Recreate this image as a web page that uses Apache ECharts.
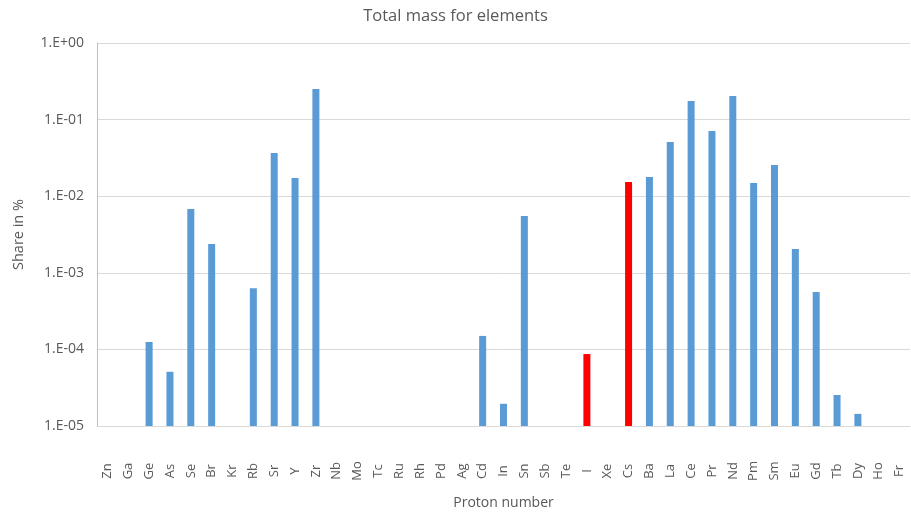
<!DOCTYPE html>
<html><head><meta charset="utf-8">
<script src="https://cdn.jsdelivr.net/npm/echarts@6/dist/echarts.min.js"></script>
<style>html,body{margin:0;padding:0;background:#fff}#c{width:911px;height:513px}</style>
</head><body><div id="c"></div>
<script>
var categories = ['Zn','Ga','Ge','As','Se','Br','Kr','Rb','Sr','Y','Zr','Nb','Mo','Tc','Ru','Rh','Pd','Ag','Cd','In','Sn','Sb','Te','I','Xe','Cs','Ba','La','Ce','Pr','Nd','Pm','Sm','Eu','Gd','Tb','Dy','Ho','Fr'];
var shares = [null,null,1.25e-4,5.1e-5,6.8e-3,2.38e-3,null,6.3e-4,3.66e-2,1.73e-2,0.25,null,null,null,null,null,null,null,1.5e-4,1.95e-5,5.5e-3,null,null,8.7e-5,null,1.53e-2,1.78e-2,5.1e-2,0.175,7.1e-2,0.203,1.49e-2,2.55e-2,2.05e-3,5.6e-4,2.54e-5,1.44e-5,null,null];
var highlighted = ['I','Cs'];
var yMin = 1e-5, yMax = 1;

var font = '"Open Sans", "Liberation Sans", sans-serif';
function fmt(v){
  var e = Math.round(Math.log10(v));
  var a = Math.abs(e);
  return '1.E' + (e>=0?'+':'-') + (a<10?'0':'') + a;
}
var chart = echarts.init(document.getElementById('c'));
chart.setOption({
  animation:false,
  title:{text:'Total mass for elements',left:'center',top:3,textStyle:{fontFamily:font,fontSize:16.5,fontWeight:'normal',color:'#595959'}},
  grid:{left:97,right:1,top:43,bottom:87,containLabel:false,outerBoundsMode:'none'},
  xAxis:{type:'category',data:categories,name:'Proton number',nameLocation:'middle',nameGap:70,
    nameTextStyle:{fontFamily:font,fontSize:14,color:'#595959'},
    axisLine:{lineStyle:{color:'#d9d9d9',width:1}},axisTick:{show:false},
    axisLabel:{rotate:90,interval:0,margin:45,align:'center',verticalAlign:'middle',fontFamily:font,fontSize:13,color:'#595959'}},
  yAxis:{type:'log',logBase:10,min:yMin,max:yMax,name:'Share in %',nameLocation:'middle',nameGap:71,
    nameTextStyle:{fontFamily:font,fontSize:14.5,color:'#595959'},
    axisLine:{show:true,lineStyle:{color:'#bfbfbf'}},axisTick:{show:false},
    splitLine:{lineStyle:{color:'#d9d9d9'}},
    axisLabel:{formatter:function(v){return fmt(v);},margin:13,fontFamily:font,fontSize:14,color:'#595959'}},
  series:[{
    type:'custom',
    data: shares.map(function(v,i){return [i, v];}),
    encode:{x:0,y:1},
    renderItem:function(params, api){
      var v = api.value(1);
      if (v == null || isNaN(v)) return null;
      var idx = api.value(0);
      var top = api.coord([idx, v]);
      var base = api.coord([idx, yMin]);
      var w = 7;
      var red = highlighted.indexOf(categories[idx]) >= 0;
      return {type:'rect',shape:{x:top[0]-w/2,y:top[1],width:w,height:base[1]-top[1]},
        style:{fill: red ? '#FF0000' : '#5B9BD5'}};
    }
  }]
});
</script></body></html>
